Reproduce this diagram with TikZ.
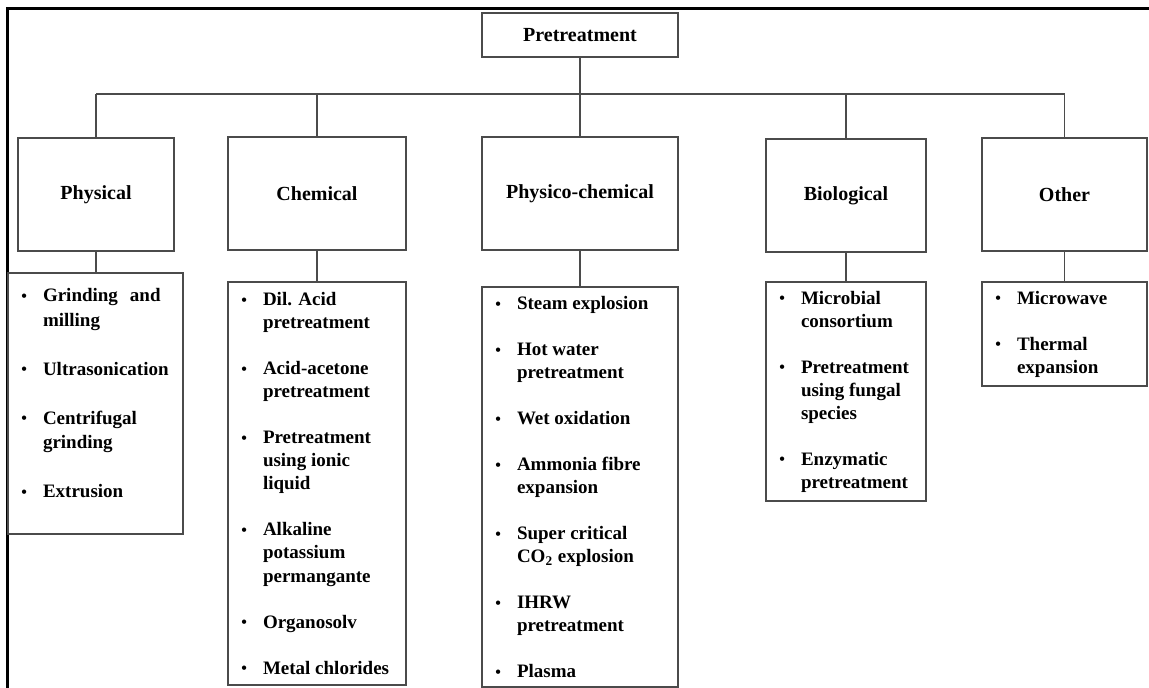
\documentclass[tikz,border=0pt]{standalone}
\usepackage{fontspec}
\setmainfont{Liberation Serif}
\usepackage{tikz}

\definecolor{boxgray}{RGB}{75,75,75}

\tikzset{
    headbox/.style={draw=boxgray, line width=1pt, fill=white, inner sep=0pt,
        minimum height=56.5pt, font=\bfseries\fontsize{10}{12}\selectfont},
    listbox/.style={draw=boxgray, line width=1pt, fill=white, inner sep=0pt,
        anchor=north, font=\bfseries\fontsize{9.5}{11.5}\selectfont},
    link/.style={draw=boxgray, line width=0.9pt}
}

% bullet hanging left of the text column
\newcommand{\itm}{\leavevmode\llap{\raisebox{0.2pt}{\fontsize{8}{8}\selectfont\textbullet}\hspace{8pt}}}
% list column: width, text
\newcommand{\itemcol}[2]{\parbox{#1}{\raggedright\leftskip=17.5pt #2}}

\begin{document}
\begin{tikzpicture}[x=0.5pt, y=-0.5pt]
    \useasboundingbox[fill=white] (0,0) rectangle (1149,688);

    % outer frame, cut off at right and bottom
    \draw[line width=1.5pt] (7,688) -- (7,9) -- (1149,9);

    \node[headbox, minimum width=98pt, minimum height=22pt] (pre) at (580,35) {Pretreatment};

    \node[headbox, minimum width=78pt] (phys) at (96,195) {Physical};
    \node[headbox, minimum width=89pt] (chem) at (317,193.5) {Chemical};
    \node[headbox, minimum width=98pt] (phch) at (580,193.5) {Physico-chemical};
    \node[headbox, minimum width=80pt] (bio) at (846,195.5) {Biological};
    \node[headbox, minimum width=82.5pt] (oth) at (1064.5,194.5) {Other};

    \node[listbox, minimum width=87.5pt, minimum height=130.5pt] (lphys) at (95.5,272)
        {\itemcol{87.5pt}{\fontsize{9.5}{12.25}\selectfont
        \itm Grinding\hspace{6pt}and\\ milling\\[12.25pt]
        \itm Ultrasonication\\[12.25pt]
        \itm Centrifugal\\ grinding\\[12.25pt]
        \itm Extrusion\\[-2pt]\mbox{}}};

    \node[listbox, minimum width=89pt, minimum height=201.5pt] (lchem) at (317,281)
        {\itemcol{89pt}{\itm Dil. Acid\\ pretreatment\\[11.5pt]
        \itm Acid-acetone\\ pretreatment\\[11.5pt]
        \itm Pretreatment\\ using ionic\\ liquid\\[11.5pt]
        \itm Alkaline\\ potassium\\ permangante\\[11.5pt]
        \itm Organosolv\\[11.5pt]
        \itm Metal chlorides}};

    \node[listbox, minimum width=98pt, minimum height=200pt] (lphch) at (580,286)
        {\itemcol{98pt}{\itm Steam explosion\\[11.5pt]
        \itm Hot water\\ pretreatment\\[11.5pt]
        \itm Wet oxidation\\[11.5pt]
        \itm Ammonia fibre\\ expansion\\[11.5pt]
        \itm Super critical\\ CO\textsubscript{2} explosion\\[11.5pt]
        \itm IHRW\\ pretreatment\\[11.5pt]
        \itm Plasma}};

    \node[listbox, minimum width=80pt, minimum height=109.5pt] (lbio) at (846,281)
        {\itemcol{80pt}{\itm Microbial\\ consortium\\[11.5pt]
        \itm Pretreatment\\ using fungal\\ species\\[11.5pt]
        \itm Enzymatic\\ pretreatment}};

    \node[listbox, minimum width=82.5pt, minimum height=52pt] (loth) at (1064.5,281)
        {\itemcol{82.5pt}{\itm Microwave\\[11.5pt]
        \itm Thermal\\ expansion}};

    % tree lines
    \coordinate (bus) at (0,94);
    \draw[link] (pre.south) -- (pre.south |- bus);
    \draw[link] (phys.north |- bus) -- (oth.north |- bus);
    \foreach \n in {phys,chem,phch,bio,oth}
        \draw[link] (\n.north) -- (\n.north |- bus) (\n.south) -- (\n.south |- l\n.north);
\end{tikzpicture}
\end{document}
